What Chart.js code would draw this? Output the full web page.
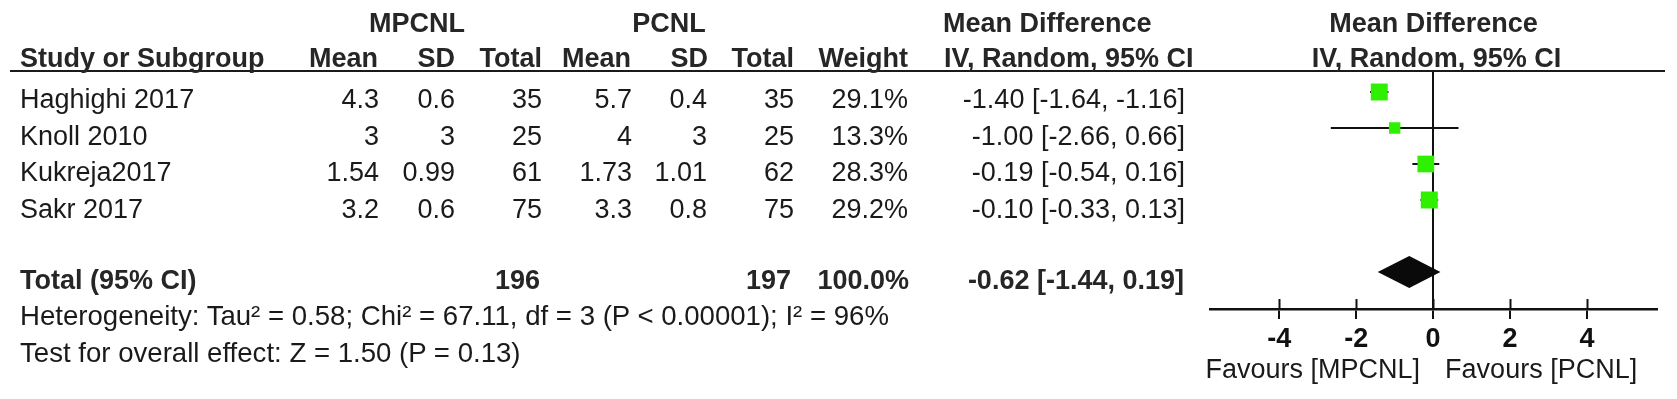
<!DOCTYPE html>
<html lang="en">
<head>
  <meta charset="UTF-8" />
  <title>Forest plot MPCNL vs PCNL</title>
  <script src="https://cdn.jsdelivr.net/npm/chart.js"></script>
  <style>
    body { margin: 0; background: #fff; }
    #wrap { position: relative; width: 1677px; height: 399px; overflow: hidden; }
    #forest { position: absolute; left: 0; top: 0; }
    .txt { position: absolute; white-space: nowrap; font: 27px/27px 'Liberation Sans', Arial, sans-serif; color: #1a1a1a; }
    .b { font-weight: bold; color: #262626; }
    .foot { font-size: 27.6px; }
    .rule { position: absolute; left: 10px; top: 70px; width: 1655px; height: 2px; background: #1a1a1a; }
  </style>
</head>
<body>
  <div id="wrap">
    <canvas id="forest" width="1677" height="399"></canvas>
    <div class="rule"></div>
  </div>

  <script>
    // datos
    const studies = ['Haghighi 2017', 'Knoll 2010', 'Kukreja2017', 'Sakr 2017'];
    const mpcnlMean = [4.3, 3, 1.54, 3.2];
    const mpcnlSD = [0.6, 3, 0.99, 0.6];
    const mpcnlTotal = [35, 25, 61, 75];
    const pcnlMean = [5.7, 4, 1.73, 3.3];
    const pcnlSD = [0.4, 3, 1.01, 0.8];
    const pcnlTotal = [35, 25, 62, 75];
    const weights = [29.1, 13.3, 28.3, 29.2];
    const meanDiff = [-1.40, -1.00, -0.19, -0.10];
    const ciLow = [-1.64, -2.66, -0.54, -0.33];
    const ciHigh = [-1.16, 0.66, 0.16, 0.13];

    const totalMpcnl = 196;
    const totalPcnl = 197;
    const totalWeight = 100.0;
    const totalMD = -0.62;
    const totalLow = -1.44;
    const totalHigh = 0.19;
    const totalRow = 5;

    const tickValues = [-4, -2, 0, 2, 4];
    const heterogeneity = 'Heterogeneity: Tau² = 0.58; Chi² = 67.11, df = 3 (P < 0.00001); I² = 96%';
    const overallTest = 'Test for overall effect: Z = 1.50 (P = 0.13)';
    const favourLeft = 'Favours [MPCNL]';
    const favourRight = 'Favours [PCNL]';

    const wrap = document.getElementById('wrap');
    const FONT = "'Liberation Sans', Arial, sans-serif";

    function put(text, x, base, align, bold, extra) {
      const el = document.createElement('div');
      el.className = 'txt' + (bold ? ' b' : '') + (extra ? ' ' + extra : '');
      el.textContent = text;
      el.style.left = x + 'px';
      el.style.top = (base - 23) + 'px';
      if (align === 'right') el.style.transform = 'translateX(-100%)';
      if (align === 'center') el.style.transform = 'translateX(-50%)';
      wrap.appendChild(el);
    }

    const fmtCI = (m, l, h) => `${m.toFixed(2)} [${l.toFixed(2)}, ${h.toFixed(2)}]`;

    // tabla de la izquierda
    const rowBase = i => 109 + i * 36.7;
    put('MPCNL', 417, 33, 'center', true);
    put('PCNL', 669, 33, 'center', true);
    put('Mean Difference', 943, 33, 'left', true);
    put('Study or Subgroup', 20, 68, 'left', true);
    put('Mean', 378, 68, 'right', true);
    put('SD', 455, 68, 'right', true);
    put('Total', 542, 68, 'right', true);
    put('Mean', 631, 68, 'right', true);
    put('SD', 708, 68, 'right', true);
    put('Total', 794, 68, 'right', true);
    put('Weight', 908, 68, 'right', true);
    put('IV, Random, 95% CI', 944, 68, 'left', true);

    studies.forEach((s, i) => {
      const y = rowBase(i);
      put(s, 20, y, 'left');
      put(String(mpcnlMean[i]), 379, y, 'right');
      put(String(mpcnlSD[i]), 455, y, 'right');
      put(String(mpcnlTotal[i]), 542, y, 'right');
      put(String(pcnlMean[i]), 632, y, 'right');
      put(String(pcnlSD[i]), 707, y, 'right');
      put(String(pcnlTotal[i]), 794, y, 'right');
      put(weights[i].toFixed(1) + '%', 908, y, 'right');
      put(fmtCI(meanDiff[i], ciLow[i], ciHigh[i]), 1185, y, 'right');
    });

    put('Total (95% CI)', 20, 290, 'left', true);
    put(String(totalMpcnl), 540, 290, 'right', true);
    put(String(totalPcnl), 791, 290, 'right', true);
    put(totalWeight.toFixed(1) + '%', 909, 290, 'right', true);
    put(fmtCI(totalMD, totalLow, totalHigh), 1184, 290, 'right', true);
    put(heterogeneity, 20, 325, 'left', false, 'foot');
    put(overallTest, 20, 362, 'left', false, 'foot');

    // rombo del total y medias marcas de eje
    const forestExtras = {
      id: 'forestExtras',
      afterDatasetsDraw(chart) {
        const { ctx, chartArea, scales: { x, y } } = chart;
        const cy = y.getPixelForValue(totalRow);
        ctx.save();
        ctx.fillStyle = '#0a0a0a';
        ctx.beginPath();
        ctx.moveTo(x.getPixelForValue(totalLow), cy);
        ctx.lineTo(x.getPixelForValue(totalMD), cy - 16);
        ctx.lineTo(x.getPixelForValue(totalHigh), cy);
        ctx.lineTo(x.getPixelForValue(totalMD), cy + 16);
        ctx.closePath();
        ctx.fill();

        ctx.strokeStyle = '#111';
        ctx.lineWidth = 2;
        x.ticks.forEach(t => {
          const px = Math.round(x.getPixelForValue(t.value)) + 0.5;
          ctx.beginPath();
          ctx.moveTo(px, chartArea.bottom - 10);
          ctx.lineTo(px, chartArea.bottom);
          ctx.stroke();
        });
        ctx.restore();
      }
    };

    const ciSets = studies.map((s, i) => ({
      label: s,
      data: [{ x: ciLow[i], y: i }, { x: ciHigh[i], y: i }],
      showLine: true,
      borderColor: '#111',
      borderWidth: 2,
      pointRadius: 0,
      order: 1
    }));

    const chart = new Chart(document.getElementById('forest'), {
      type: 'scatter',
      data: {
        datasets: [{
          label: 'Mean difference',
          data: meanDiff.map((m, i) => ({ x: m, y: i })),
          pointStyle: 'rect',
          pointRadius: weights.map(w => Math.sqrt(w / 29.2) * 12),
          backgroundColor: '#2ef000',
          borderWidth: 0,
          order: 0
        }, ...ciSets]
      },
      options: {
        responsive: false,
        animation: false,
        layout: { padding: { left: 1210, right: 20, top: 71, bottom: 0 } },
        plugins: { legend: { display: false }, tooltip: { enabled: false } },
        scales: {
          x: {
            type: 'linear',
            min: -5.8,
            max: 5.82,
            afterBuildTicks: s => { s.ticks = tickValues.map(v => ({ value: v })); },
            afterFit: s => { s.height = 90; },
            grid: {
              drawOnChartArea: true,
              color: c => (c.tick && c.tick.value === 0 ? '#111' : 'rgba(0,0,0,0)'),
              tickColor: '#111',
              tickLength: 10,
              lineWidth: 2,
              tickWidth: 2
            },
            border: { display: true, color: '#111', width: 2.5 },
            ticks: { color: '#111', padding: 4, font: { family: FONT, size: 27, weight: 'bold' } }
          },
          y: { type: 'linear', display: false, reverse: true, min: -0.583, max: 6.028 }
        }
      },
      plugins: [forestExtras]
    });

    // cabecera y leyendas del panel derecho
    const xs = chart.scales.x;
    const mid = (chart.chartArea.left + chart.chartArea.right) / 2;
    put('Mean Difference', mid, 33, 'center', true);
    put('IV, Random, 95% CI', mid + 3, 68, 'center', true);
    const zeroPx = xs.getPixelForValue(0);
    put(favourLeft, zeroPx - 13, 379, 'right');
    put(favourRight, zeroPx + 12, 379, 'left');
  </script>
</body>
</html>
